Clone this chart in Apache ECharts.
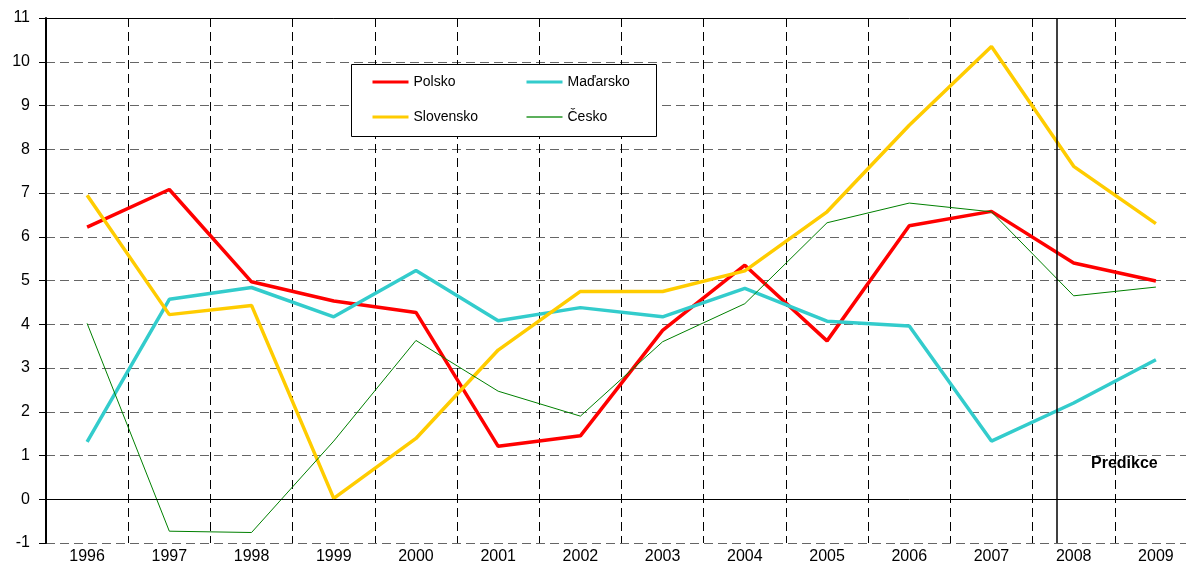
<!DOCTYPE html>
<html>
<head>
<meta charset="utf-8">
<script src="https://cdn.jsdelivr.net/npm/echarts@6/dist/echarts.min.js"></script>
<style>
html,body{margin:0;padding:0;background:#fff;overflow:hidden;}
#chart{width:1200px;height:575px;}
</style>
</head>
<body>
<div id="chart"></div>
<script>
const years = ['1996','1997','1998','1999','2000','2001','2002','2003','2004','2005','2006','2007','2008','2009'];
const polsko    = [6.22, 7.08, 4.97, 4.53, 4.27, 1.21, 1.45, 3.86, 5.35, 3.62, 6.25, 6.58, 5.40, 4.99];
const madarsko  = [1.31, 4.57, 4.84, 4.17, 5.23, 4.08, 4.38, 4.17, 4.82, 4.07, 3.96, 1.33, 2.20, 3.19];
const slovensko = [6.95, 4.22, 4.43, 0.02, 1.39, 3.41, 4.75, 4.75, 5.22, 6.57, 8.55, 10.35, 7.61, 6.30];
const cesko     = [4.02, -0.73, -0.76, 1.33, 3.63, 2.47, 1.90, 3.60, 4.47, 6.32, 6.77, 6.57, 4.65, 4.85];
const predictionStart = 11.8; // position between 2007 and 2008 (category index)
const predictionLabel = 'Predikce';

const FONT = '"Liberation Sans", Arial, sans-serif';
const chart = echarts.init(document.getElementById('chart'), null, {renderer:'canvas'});

function lineSeries(name, data, color, width){
  return {
    name, type:'line', data, symbol:'none', smooth:false,
    xAxisIndex:0, yAxisIndex:0,
    lineStyle:{color, width}, itemStyle:{color},
    animation:false, z: 3
  };
}

function legendCol(left, items){
  return {
    left:left, top:75, orient:'vertical', padding:0,
    itemWidth:36, itemHeight:14, itemGap:21,
    itemStyle:{opacity:0},
    lineStyle:{width:3},
    textStyle:{fontFamily:FONT, fontSize:14, color:'#000'},
    data:items, z:5
  };
}

const option = {
  animation:false,
  backgroundColor:'#fff',
  grid:{left:46, top:18, width:1151, height:525},
  legend:[
    legendCol(371, [{name:'Polsko'}, {name:'Slovensko'}]),
    legendCol(525, [{name:'Maďarsko'}, {name:'Česko', lineStyle:{width:2, color:'#5cb05c'}}])
  ],
  xAxis:[
    {
      type:'category', data:years, boundaryGap:true, position:'bottom',
      axisLine:{show:false, onZero:false},
      axisTick:{show:false},
      axisLabel:{fontFamily:FONT, fontSize:16, color:'#000', margin:6, interval:0},
      splitLine:{show:true, interval:0, lineStyle:{color:'#000', width:1, type:[9,5]}}
    },
    {
      type:'value', position:'top', min:-0.5, max:13.5,
      axisLine:{show:true, onZero:false, lineStyle:{color:'#000', width:1}},
      axisTick:{show:false}, axisLabel:{show:false}, splitLine:{show:false}
    }
  ],
  yAxis:{
    type:'value', min:-1, max:11, interval:1,
    axisLine:{show:true, onZero:false, lineStyle:{color:'#000', width:2}},
    axisTick:{show:true, length:7, lineStyle:{color:'#000'}},
    axisLabel:{fontFamily:FONT, fontSize:16, color:'#000', margin:16},
    splitLine:{show:true, lineStyle:{color:'#666', width:1, type:[9,5]}}
  },
  series:[
    Object.assign(lineSeries('Polsko', polsko, '#ff0000', 3.5), {
      markLine:{
        silent:true, symbol:'none', label:{show:false},
        lineStyle:{color:'#000', width:1, type:'solid'},
        data:[{yAxis:0}]
      }
    }),
    lineSeries('Maďarsko', madarsko, '#33cccc', 3.5),
    lineSeries('Slovensko', slovensko, '#ffcc00', 3.5),
    lineSeries('Česko', cesko, '#008000', 1),
    {
      name:'prediction', type:'line', xAxisIndex:1, yAxisIndex:0, data:[],
      symbol:'none',
      markLine:{
        silent:true, symbol:'none', label:{show:false},
        lineStyle:{color:'#000', width:1.5, type:'solid'},
        data:[{xAxis:predictionStart}]
      }
    }
  ],
  graphic:[
    {type:'rect', left:351, top:64, z:2, silent:true,
      shape:{width:305, height:72}, style:{fill:'#fff', stroke:'#000', lineWidth:1}},
    {type:'text', left:1091, top:456, style:{text:predictionLabel, font:'bold 16px ' + FONT, fill:'#000'}}
  ]
};
chart.setOption(option);
</script>
</body>
</html>
